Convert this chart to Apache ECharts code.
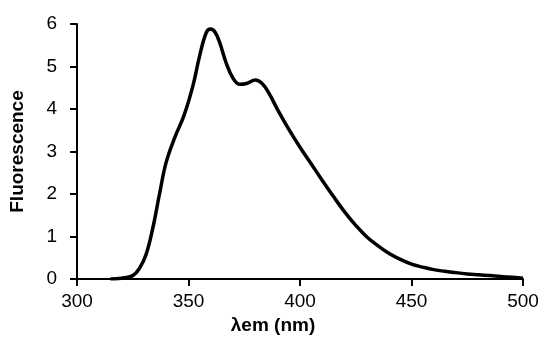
<!DOCTYPE html>
<html>
<head>
<meta charset="utf-8">
<script src="https://cdn.jsdelivr.net/npm/echarts@6/dist/echarts.min.js"></script>
<style>
  html, body { margin: 0; padding: 0; background: #fff; }
  #chart { width: 542px; height: 340px; }
</style>
</head>
<body>
<div id="chart"></div>
<script>
// emission wavelength (nm) and fluorescence intensity
const wavelengths = [315, 320, 325, 328, 331, 334, 337, 340, 344, 348, 352, 355, 358, 360, 362, 364, 367, 370, 373, 376, 380, 383, 386, 390, 395, 400, 405, 410, 415, 420, 425, 430, 435, 440, 445, 450, 455, 460, 465, 470, 475, 480, 485, 490, 495, 500];
const fluorescence = [0.0, 0.02, 0.08, 0.25, 0.58, 1.2, 2.0, 2.75, 3.35, 3.85, 4.55, 5.25, 5.8, 5.88, 5.8, 5.56, 5.07, 4.72, 4.58, 4.6, 4.68, 4.6, 4.38, 3.98, 3.52, 3.1, 2.71, 2.32, 1.94, 1.58, 1.26, 0.99, 0.78, 0.6, 0.46, 0.35, 0.28, 0.22, 0.18, 0.15, 0.12, 0.1, 0.08, 0.06, 0.04, 0.02];
const xTicks = { min: 300, max: 500, step: 50 };
const yTicks = { min: 0, max: 6, step: 1 };

const chart = echarts.init(document.getElementById('chart'), null, { renderer: 'canvas' });

const font = 'Liberation Sans, Arial, sans-serif';
const axisCommon = {
  axisLine: { show: true, onZero: false, lineStyle: { color: '#000', width: 2 } },
  axisTick: { show: true, inside: false, length: 7, lineStyle: { color: '#000', width: 2 } },
  splitLine: { show: false },
  axisLabel: { color: '#000', fontSize: 19, fontFamily: font },
  nameLocation: 'middle',
  nameTextStyle: { color: '#000', fontSize: 19, fontWeight: 'bold', fontFamily: font }
};

chart.setOption({
  backgroundColor: '#fff',
  animation: false,
  grid: { left: 77, right: 19, top: 24, bottom: 61 },
  xAxis: Object.assign({}, axisCommon, {
    type: 'value',
    min: xTicks.min,
    max: xTicks.max,
    interval: xTicks.step,
    name: 'λem (nm)',
    nameGap: 34,
    nameTextStyle: Object.assign({}, axisCommon.nameTextStyle, { padding: [0, 54, 0, 0] }),
    axisLabel: Object.assign({}, axisCommon.axisLabel, { margin: 13 })
  }),
  yAxis: Object.assign({}, axisCommon, {
    type: 'value',
    min: yTicks.min,
    max: yTicks.max,
    interval: yTicks.step,
    name: 'Fluorescence',
    nameGap: 50,
    axisLabel: Object.assign({}, axisCommon.axisLabel, { margin: 20 })
  }),
  series: [{
    type: 'line',
    data: wavelengths.map((w, i) => [w, fluorescence[i]]),
    smooth: 0.4,
    showSymbol: false,
    lineStyle: { color: '#000', width: 3.5 }
  }]
});
</script>
</body>
</html>
